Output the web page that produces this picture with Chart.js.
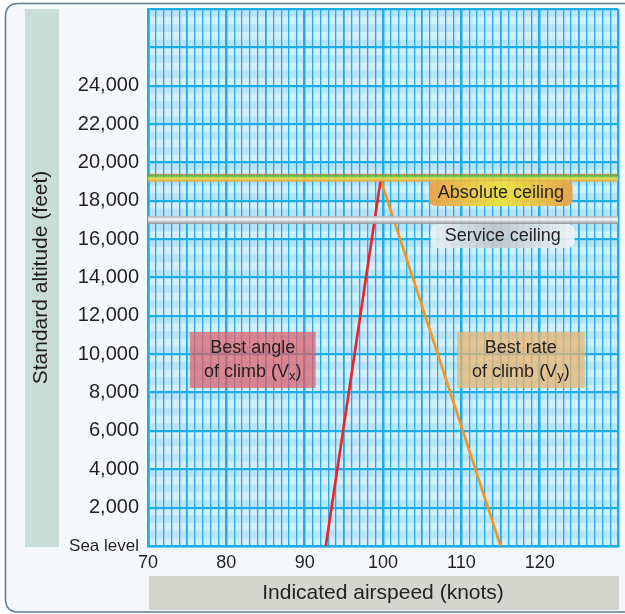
<!DOCTYPE html>
<html>
<head>
<meta charset="utf-8">
<style>
  html, body { margin: 0; padding: 0; background: #fff; }
  canvas { display: block; }
</style>
</head>
<body>
<canvas id="climbChart" width="625" height="614"></canvas>
<script src="https://cdn.jsdelivr.net/npm/chart.js@4.4.1/dist/chart.umd.min.js"></script>
<script>
// values (knots / feet)
const vxSpeeds = [92.7, 99.7];
const vxAltitudes = [0, 19100];
const vySpeeds = [115.0, 99.7];
const vyAltitudes = [0, 19100];
const ceilingNames = ['Absolute ceiling', 'Service ceiling'];
const ceilingAltitudes = [19200, 17000];
const speedRange = [70, 130];
const altitudeRange = [0, 28000];
const speedTicks = [70, 80, 90, 100, 110, 120];
const altitudeTicks = [0, 2000, 4000, 6000, 8000, 10000, 12000, 14000, 16000, 18000, 20000, 22000, 24000];
const altitudeTickLabels = ['Sea level', '2,000', '4,000', '6,000', '8,000', '10,000', '12,000',
  '14,000', '16,000', '18,000', '20,000', '22,000', '24,000'];

const FONT = "'Liberation Sans', Arial, Helvetica, sans-serif";
const TEXT = '#231f20';
const GRID = '#1cafe7';
Chart.defaults.font.family = FONT;
Chart.defaults.color = TEXT;

const toPoints = (xs, ys) => xs.map((x, i) => ({ x: x, y: ys[i] }));

// vertical gradient for the ceiling bands
function bandColor(value, stops, fallback) {
  return (ctx) => {
    const chart = ctx.chart;
    const yScale = chart.scales && chart.scales.y;
    if (!chart.chartArea || !yScale) return fallback;
    const py = yScale.getPixelForValue(value);
    if (!isFinite(py)) return fallback;
    const g = chart.ctx.createLinearGradient(0, py - 4, 0, py + 4);
    stops.forEach((s) => g.addColorStop(s[0], s[1]));
    return g;
  };
}

function boxPath(ctx, x, y, w, h, r) {
  ctx.beginPath();
  ctx.moveTo(x + r, y);
  ctx.lineTo(x + w - r, y);
  ctx.quadraticCurveTo(x + w, y, x + w, y + r);
  ctx.lineTo(x + w, y + h - r);
  ctx.quadraticCurveTo(x + w, y + h, x + w - r, y + h);
  ctx.lineTo(x + r, y + h);
  ctx.quadraticCurveTo(x, y + h, x, y + h - r);
  ctx.lineTo(x, y + r);
  ctx.quadraticCurveTo(x, y, x + r, y);
  ctx.closePath();
}

function subText(ctx, cx, cy, main, sub, tail, size) {
  const big = size + 'px ' + FONT;
  const small = Math.round(size * 0.74) + 'px ' + FONT;
  ctx.font = big;
  const w1 = ctx.measureText(main).width;
  const w3 = ctx.measureText(tail).width;
  ctx.font = small;
  const w2 = ctx.measureText(sub).width;
  let x = cx - (w1 + w2 + w3) / 2;
  ctx.textAlign = 'left';
  ctx.textBaseline = 'middle';
  ctx.font = big; ctx.fillText(main, x, cy); x += w1;
  ctx.font = small; ctx.fillText(sub, x, cy + 4); x += w2;
  ctx.font = big; ctx.fillText(tail, x, cy);
}

const backdrop = {
  id: 'backdrop',
  beforeDraw(chart) {
    const ctx = chart.ctx;
    const area = chart.chartArea;
    const ys = chart.scales.y;
    ctx.save();
    ctx.fillStyle = '#ffffff';
    ctx.fillRect(0, 0, chart.width, chart.height);
    // outer frame
    boxPath(ctx, 5.5, 3.5, 660, 608.5, 13);
    ctx.fillStyle = '#f5f8fb';
    ctx.fill();
    ctx.strokeStyle = '#5f7e8d';
    ctx.lineWidth = 1.5;
    ctx.stroke();
    // axis title panels
    ctx.fillStyle = '#c8ded6';
    ctx.fillRect(25, area.top, 34, area.bottom - area.top + 1);
    ctx.fillStyle = '#d5d5d0';
    ctx.fillRect(area.left + 1, 576, area.right - area.left, 34);
    // striped paper
    ctx.fillStyle = '#d5eefb';
    ctx.fillRect(area.left, area.top, area.right - area.left, area.bottom - area.top);
    ctx.fillStyle = '#bae3f7';
    for (let v = 400; v < altitudeRange[1]; v += 800) {
      const y0 = ys.getPixelForValue(v + 400);
      const y1 = ys.getPixelForValue(v);
      ctx.fillRect(area.left, y0, area.right - area.left, y1 - y0);
    }
    ctx.restore();
  },
  afterDatasetsDraw(chart) {
    const ctx = chart.ctx;
    const xs = chart.scales.x;
    const ys = chart.scales.y;
    const rect = (x0, x1, y0, y1) => {
      const px0 = xs.getPixelForValue(x0), px1 = xs.getPixelForValue(x1);
      const py0 = ys.getPixelForValue(y0), py1 = ys.getPixelForValue(y1);
      return { x: px0, y: py0, w: px1 - px0, h: py1 - py0, cx: (px0 + px1) / 2, cy: (py0 + py1) / 2 };
    };
    ctx.save();
    ctx.fillStyle = TEXT;

    // best angle / best rate boxes
    const vx = rect(75.35, 91.4, 11160, 8240);
    ctx.fillStyle = 'rgba(228,90,100,0.7)';
    ctx.fillRect(vx.x, vx.y, vx.w, vx.h);
    const vy = rect(109.45, 125.75, 11160, 8240);
    ctx.fillStyle = 'rgba(235,180,110,0.75)';
    ctx.fillRect(vy.x, vy.y, vy.w, vy.h);

    ctx.fillStyle = TEXT;
    ctx.textAlign = 'center';
    ctx.textBaseline = 'middle';
    ctx.font = '18px ' + FONT;
    ctx.fillText('Best angle', vx.cx, vx.cy - 12);
    subText(ctx, vx.cx, vx.cy + 12, 'of climb (V', 'x', ')', 18);
    ctx.textAlign = 'center';
    ctx.font = '18px ' + FONT;
    ctx.fillText('Best rate', vy.cx, vy.cy - 12);
    subText(ctx, vy.cx, vy.cy + 12, 'of climb (V', 'y', ')', 18);

    // ceiling tags
    const abs = rect(105.9, 124.2, ceilingAltitudes[0] - 170, ceilingAltitudes[0] - 1470);
    let g = ctx.createLinearGradient(abs.x, 0, abs.x + abs.w, 0);
    g.addColorStop(0, 'rgba(233,160,72,0.95)');
    g.addColorStop(0.5, 'rgba(236,226,62,0.95)');
    g.addColorStop(1, 'rgba(233,160,72,0.95)');
    boxPath(ctx, abs.x, abs.y, abs.w, abs.h, 7);
    ctx.fillStyle = g;
    ctx.fill();
    const svc = rect(106.1, 124.45, ceilingAltitudes[1] - 210, ceilingAltitudes[1] - 1460);
    g = ctx.createLinearGradient(svc.x, 0, svc.x + svc.w, 0);
    g.addColorStop(0, 'rgba(238,242,246,0.9)');
    g.addColorStop(0.45, 'rgba(192,198,204,0.9)');
    g.addColorStop(1, 'rgba(242,246,249,0.9)');
    boxPath(ctx, svc.x, svc.y, svc.w, svc.h, 7);
    ctx.fillStyle = g;
    ctx.fill();

    ctx.fillStyle = TEXT;
    ctx.textAlign = 'center';
    ctx.textBaseline = 'middle';
    ctx.font = '18px ' + FONT;
    ctx.fillText(ceilingNames[0], abs.cx, abs.cy);
    ctx.fillText(ceilingNames[1], svc.cx, svc.cy);
    ctx.restore();
  }
};

new Chart(document.getElementById('climbChart'), {
  type: 'scatter',
  data: {
    datasets: [
      {
        label: ceilingNames[0],
        data: toPoints(speedRange, [ceilingAltitudes[0], ceilingAltitudes[0]]),
        showLine: true,
        borderWidth: 8,
        borderColor: bandColor(ceilingAltitudes[0], [
          [0, 'rgba(226,130,60,0.85)'], [0.25, 'rgba(70,176,70,0.9)'],
          [0.55, 'rgba(226,224,60,0.9)'], [1, 'rgba(234,150,60,0.9)']
        ], '#d8d040'),
        pointRadius: 0
      },
      {
        label: ceilingNames[1],
        data: toPoints(speedRange, [ceilingAltitudes[1], ceilingAltitudes[1]]),
        showLine: true,
        borderWidth: 8,
        borderColor: bandColor(ceilingAltitudes[1], [
          [0, 'rgba(176,178,180,0.9)'], [0.45, 'rgba(248,248,248,0.95)'], [1, 'rgba(140,142,146,0.9)']
        ], '#c8c8c8'),
        pointRadius: 0
      },
      {
        label: 'Best angle of climb (Vx)',
        data: toPoints(vxSpeeds, vxAltitudes),
        showLine: true,
        borderColor: '#e8232a',
        borderWidth: 2.6,
        pointRadius: 0
      },
      {
        label: 'Best rate of climb (Vy)',
        data: toPoints(vySpeeds, vyAltitudes),
        showLine: true,
        borderColor: '#f7941d',
        borderWidth: 2.6,
        pointRadius: 0
      }
    ]
  },
  options: {
    responsive: false,
    animation: false,
    events: [],
    layout: { padding: { left: 25, top: 9, right: 7, bottom: 4 } },
    plugins: {
      legend: { display: false },
      tooltip: { enabled: false }
    },
    scales: {
      x: {
        type: 'linear',
        min: speedRange[0],
        max: speedRange[1],
        afterFit: (scale) => {
          scale.height = 64;
          scale.paddingLeft = 0;
          scale.paddingRight = 0;
        },
        border: { color: GRID, width: 2.5 },
        grid: {
          drawTicks: false,
          color: GRID,
          lineWidth: (ctx) => {
            const v = ctx.tick ? ctx.tick.value : 0;
            if (v % 10 === 0) return 2.5;
            if (v % 5 === 0) return 1.8;
            return 1.3;
          }
        },
        ticks: {
          stepSize: 1,
          autoSkip: false,
          minRotation: 0,
          maxRotation: 0,
          padding: 6,
          color: TEXT,
          font: { size: 18 },
          callback: (v) => (speedTicks.includes(v) ? String(v) : '')
        },
        title: {
          display: true,
          text: 'Indicated airspeed (knots)',
          color: TEXT,
          font: { size: 21 },
          padding: { top: 0, bottom: 4 }
        }
      },
      y: {
        type: 'linear',
        min: altitudeRange[0],
        max: altitudeRange[1],
        afterFit: (scale) => {
          scale.width = 123;
          scale.paddingTop = 0;
          scale.paddingBottom = 0;
        },
        border: { color: GRID, width: 2.5 },
        grid: {
          drawTicks: false,
          color: GRID,
          lineWidth: 2.2
        },
        ticks: {
          stepSize: 2000,
          autoSkip: false,
          padding: 9,
          color: TEXT,
          font: (ctx) => ({ size: ctx.tick && ctx.tick.value === 0 ? 17 : 20 }),
          callback: (v) => {
            const i = altitudeTicks.indexOf(v);
            return i >= 0 ? altitudeTickLabels[i] : '';
          }
        },
        title: {
          display: true,
          text: 'Standard altitude (feet)',
          color: TEXT,
          font: { size: 21 },
          padding: { top: 4, bottom: 0 }
        }
      }
    }
  },
  plugins: [backdrop]
});
</script>
</body>
</html>
